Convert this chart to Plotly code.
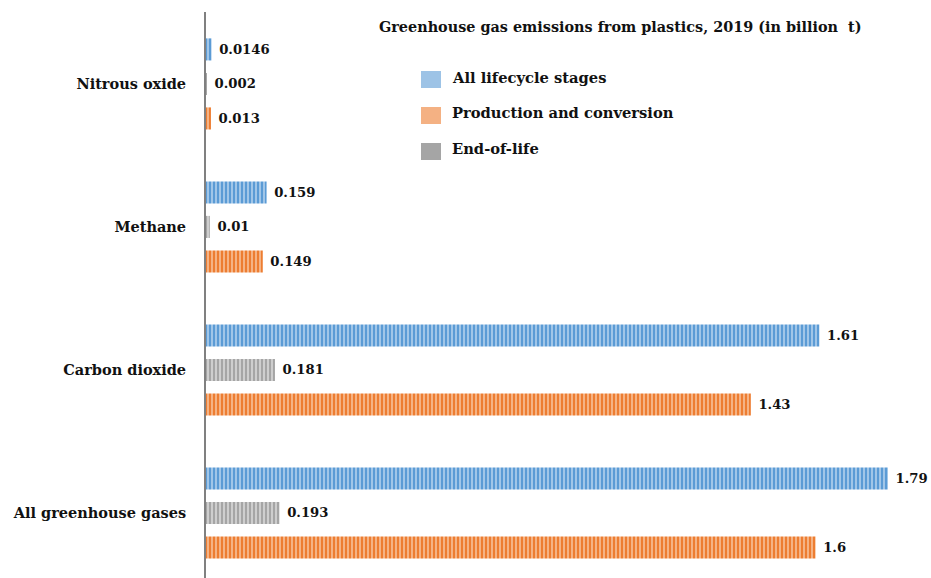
import plotly.graph_objects as go

# Emission categories (bottom to top on the chart)
categories = ["All greenhouse gases", "Carbon dioxide", "Methane", "Nitrous oxide"]

# Emissions in billion tonnes, 2019
all_lifecycle = [1.79, 1.61, 0.159, 0.0146]
production = [1.6, 1.43, 0.149, 0.013]
end_of_life = [0.193, 0.181, 0.01, 0.002]

series_names = ["All lifecycle stages", "Production and conversion", "End-of-life"]
title_text = "Greenhouse gas emissions from plastics, 2019 (in billion  t)"

FONT = "DejaVu Serif"
INK = "#111111"
bar_colors = {"All lifecycle stages": ("#5B9BD5", "#A9CBEB"),
              "Production and conversion": ("#ED7D31", "#F6B98E"),
              "End-of-life": ("#A5A5A5", "#D3D3D3")}
legend_colors = {"All lifecycle stages": "#9DC3E6",
                 "Production and conversion": "#F4B183",
                 "End-of-life": "#A5A5A5"}

def fmt(v):
    return "\u00a0" + str(v)

fig = go.Figure()
# Trace order gives bottom-to-top placement inside each group
for name, vals in [("Production and conversion", production),
                   ("End-of-life", end_of_life),
                   ("All lifecycle stages", all_lifecycle)]:
    base, stripe = bar_colors[name]
    fig.add_trace(go.Bar(
        y=categories, x=vals, orientation="h", name=name,
        marker=dict(color=base, line=dict(width=0),
                    pattern=dict(shape="|", fgcolor=stripe, bgcolor=base,
                                 size=4, solidity=0.45, fillmode="replace")),
        text=[fmt(v) for v in vals], textposition="outside",
        constraintext="none", cliponaxis=False,
        textfont=dict(family=FONT, size=13.2, color=INK, weight="bold"),
        showlegend=False,
    ))

# Legend drawn as swatches with labels
shapes = []
annotations = []
for i, name in enumerate(series_names):
    y0 = 71 + i * 36
    shapes.append(dict(type="rect", xref="paper", yref="paper",
                       x0=(421 - 206) / 725, x1=(441 - 206) / 725,
                       y0=1 - (y0 + 17 - 12) / 566, y1=1 - (y0 - 12) / 566,
                       fillcolor=legend_colors[name], line=dict(width=0)))
    annotations.append(dict(text=name, xref="paper", yref="paper",
                            x=(450 - 206) / 725, y=1 - (y0 + 6 - 12) / 566,
                            xanchor="left", yanchor="middle", showarrow=False,
                            font=dict(family=FONT, size=14.7, color=INK, weight="bold")))

annotations.append(dict(text=title_text, xref="paper", yref="paper",
                        x=(620 - 206) / 725, y=1 - (27 - 12) / 566,
                        xanchor="center", yanchor="middle", showarrow=False,
                        font=dict(family=FONT, size=14.4, color=INK, weight="bold")))

fig.update_layout(
    width=931, height=578,
    margin=dict(l=206, r=0, t=12, b=0),
    paper_bgcolor="white", plot_bgcolor="white",
    barmode="group", bargap=0.276, bargroupgap=0.36,
    showlegend=False,
    shapes=shapes, annotations=annotations,
    xaxis=dict(range=[0, 725 / 381], visible=False),
    yaxis=dict(range=[-0.455, 3.503], showgrid=False, zeroline=False,
               showline=True, linecolor="#808080", linewidth=2,
               ticks="", ticklabelstandoff=15,
               tickfont=dict(family=FONT, size=14.5, color=INK, weight="bold")),
    font=dict(family=FONT),
)

fig.write_html("out.html")
